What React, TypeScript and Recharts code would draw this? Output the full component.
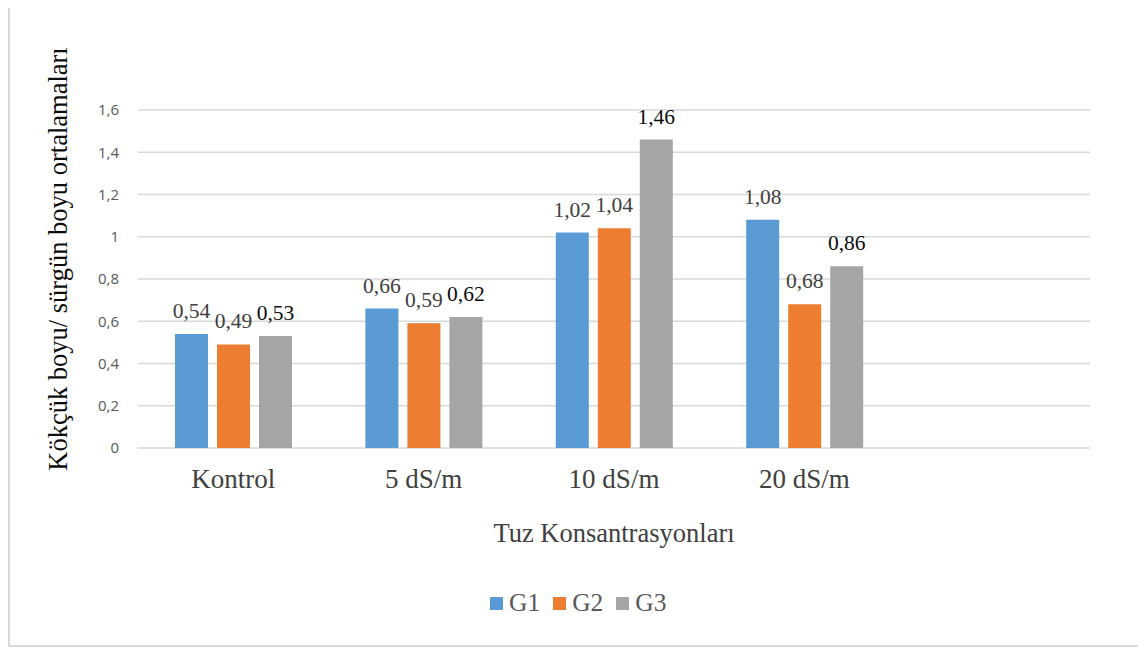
import { BarChart, Bar, XAxis, YAxis, CartesianGrid, Legend, LabelList } from 'recharts'

// Salt concentrations (last slot is an empty category, as in the source sheet)
const categories = ['Kontrol', '5 dS/m', '10 dS/m', '20 dS/m', '']
const g1 = [0.54, 0.66, 1.02, 1.08, null]
const g2 = [0.49, 0.59, 1.04, 0.68, null]
const g3 = [0.53, 0.62, 1.46, 0.86, null]
const yTicks = [0, 0.2, 0.4, 0.6, 0.8, 1, 1.2, 1.4, 1.6]

const series = [
  { key: 'G1', color: '#5B9BD5', labelColor: '#404040' },
  { key: 'G2', color: '#ED7D31', labelColor: '#404040' },
  { key: 'G3', color: '#A5A5A5', labelColor: '#0D0D0D' },
]

const data = categories.map((name, i) => ({ name, G1: g1[i], G2: g2[i], G3: g3[i] }))

const SERIF = '"Liberation Serif", "Times New Roman", serif'
const SANS = '"Open Sans", Calibri, sans-serif'

const comma = (v: any) => (v == null || v === '' ? '' : String(v).replace('.', ','))

function YTitle({ viewBox }: any) {
  const x = viewBox.x - 11
  const y = viewBox.y + viewBox.height / 2 - 20
  return (
    <text x={x} y={y} transform={`rotate(-90, ${x}, ${y})`} textAnchor="middle"
      fontFamily={SERIF} fontSize={26.5} fill="#0D0D0D">
      Kökçük boyu/ sürgün boyu ortalamaları
    </text>
  )
}

function LegendRow() {
  return (
    <div style={{ display: 'flex', alignItems: 'center', fontFamily: SERIF, fontSize: 25.5, color: '#595959', lineHeight: '26px' }}>
      {series.map(s => (
        <div key={s.key} style={{ display: 'flex', alignItems: 'center', marginRight: 13 }}>
          <span style={{ width: 13, height: 13, background: s.color, display: 'inline-block', marginRight: 6 }} />
          <span>{s.key}</span>
        </div>
      ))}
    </div>
  )
}

export default function App() {
  return (
    <div style={{ position: 'relative', width: 1133, height: 647, marginTop: -8, border: '2px solid #D9D9D9', boxSizing: 'border-box', background: '#fff' }}>
      <BarChart width={1129} height={643} data={data} barSize={33} barGap={9}
        margin={{ top: 108, right: 49, left: 68, bottom: 103 }}>
        <CartesianGrid vertical={false} stroke="#D9D9D9" strokeWidth={1.5} />
        <XAxis dataKey="name" height={94} axisLine={false} tickLine={false} tickSize={6} tickMargin={15}
          tick={{ fontFamily: SERIF, fontSize: 27, fill: '#404040' }}
          label={{ value: 'Tuz Konsantrasyonları', position: 'insideBottom', offset: 0, fontFamily: SERIF, fontSize: 26.5, fill: '#404040' }} />
        <YAxis width={60} domain={[0, 1.6]} ticks={yTicks} interval={0} axisLine={false} tickLine={false}
          tickSize={6} tickMargin={13} tickFormatter={comma}
          tick={{ fontFamily: SANS, fontSize: 15, fill: '#595959' }}
          label={{ content: <YTitle /> }} />
        <Legend layout="horizontal" verticalAlign="middle" align="center"
          wrapperStyle={{ top: 588, left: 480, width: 230 }} content={<LegendRow />} />
        {series.map(s => (
          <Bar key={s.key} dataKey={s.key} fill={s.color} isAnimationActive={false}>
            <LabelList dataKey={s.key} position="top" offset={16} formatter={comma}
              style={{ fontFamily: SERIF, fontSize: 21.5, fill: s.labelColor }} />
          </Bar>
        ))}
      </BarChart>
    </div>
  )
}
